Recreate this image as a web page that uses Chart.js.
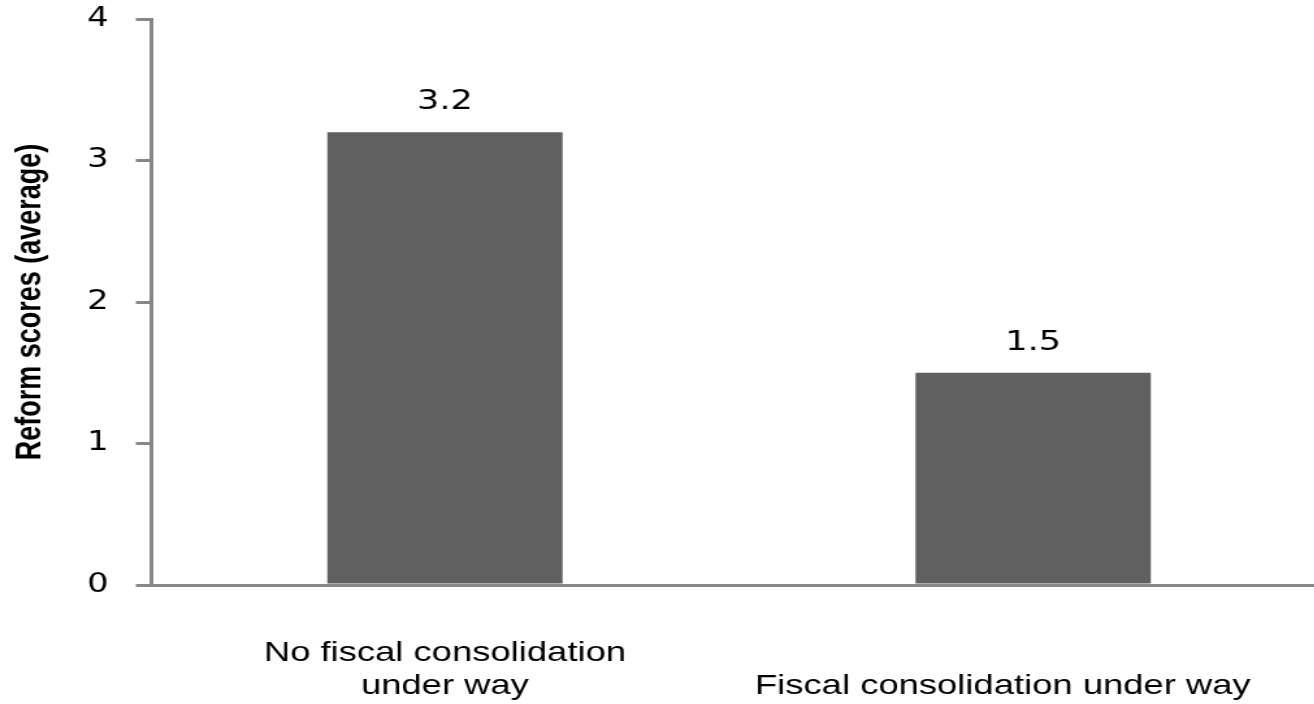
<!DOCTYPE html>
<html>
<head>
<meta charset="utf-8">
<title>Reform scores</title>
<script src="https://cdn.jsdelivr.net/npm/chart.js@4.4.1/dist/chart.umd.min.js"></script>
<style>
  html, body { margin: 0; padding: 0; background: #fff; overflow: hidden; }
  /* chart is drawn narrow and widened, which gives the broad lettering */
  #wrap { position: absolute; left: 0; top: 0; width: 1021px; height: 704px;
          transform: scaleX(1.3); transform-origin: 0 0; }
</style>
</head>
<body>
<div id="wrap">
  <canvas id="reformChart" width="1021" height="704"></canvas>
</div>
<script>
const categories = [
    ['No fiscal consolidation', 'under way'],
    'Fiscal consolidation under way'
];
const scores = [3.2, 1.5];
const yTicks = [0, 1, 2, 3, 4];

const axisGrey = '#878787';

// prints the value above each bar
const valueLabels = {
    id: 'valueLabels',
    afterDatasetsDraw(chart) {
        const ctx = chart.ctx;
        const meta = chart.getDatasetMeta(0);
        ctx.save();
        ctx.font = '27px "DejaVu Sans"';
        ctx.fillStyle = '#000';
        ctx.textAlign = 'center';
        ctx.textBaseline = 'alphabetic';
        meta.data.forEach((bar, i) => {
            ctx.fillText(scores[i].toFixed(1), bar.x, bar.y - 23);
        });
        ctx.restore();
    }
};

const ctx = document.getElementById('reformChart').getContext('2d');
new Chart(ctx, {
    type: 'bar',
    data: {
        labels: categories,
        datasets: [{
            data: scores,
            backgroundColor: '#606060',
            borderWidth: 0,
            categoryPercentage: 1,
            barPercentage: 0.4
        }]
    },
    options: {
        responsive: false,
        animation: false,
        layout: { padding: { top: 0, left: 3, right: 0, bottom: 0 } },
        scales: {
            x: {
                grid: { display: false, drawTicks: false },
                border: { display: true, color: axisGrey, width: 3 },
                ticks: {
                    color: '#000',
                    padding: 68,
                    crossAlign: 'far',
                    maxRotation: 0,
                    font: { family: '"Liberation Sans", Arial, sans-serif', size: 28, lineHeight: 1.18 },
                    // nudge the right-hand label away from the edge
                    callback: (value, i) => i === categories.length - 1
                        ? categories[i] + '\u00a0'.repeat(6)
                        : categories[i]
                },
                afterFit: scale => {
                    scale.height = 119;
                    scale.paddingLeft = 0;
                    scale.paddingRight = 0;
                }
            },
            y: {
                min: yTicks[0],
                max: yTicks[yTicks.length - 1],
                afterBuildTicks: scale => {
                    scale.ticks = yTicks.map(v => ({ value: v }));
                },
                afterFit: scale => {
                    scale.width = 113;
                    scale.paddingTop = 19;
                    scale.paddingBottom = 0;
                },
                grid: {
                    drawOnChartArea: false,
                    drawTicks: true,
                    tickLength: 11.5,
                    color: axisGrey,
                    lineWidth: 3
                },
                border: { display: true, color: axisGrey, width: 3 },
                ticks: {
                    color: '#000',
                    padding: 21,
                    font: { family: '"DejaVu Sans", Verdana, sans-serif', size: 26 }
                },
                title: {
                    display: true,
                    text: 'Reform scores (average)',
                    color: '#000',
                    padding: { top: 4, bottom: 28 },
                    font: { family: '"Liberation Sans", Arial, sans-serif', size: 27, weight: 'bold', lineHeight: 1.2 }
                }
            }
        },
        plugins: {
            legend: { display: false },
            tooltip: { enabled: false }
        }
    },
    plugins: [valueLabels]
});
</script>
</body>
</html>
